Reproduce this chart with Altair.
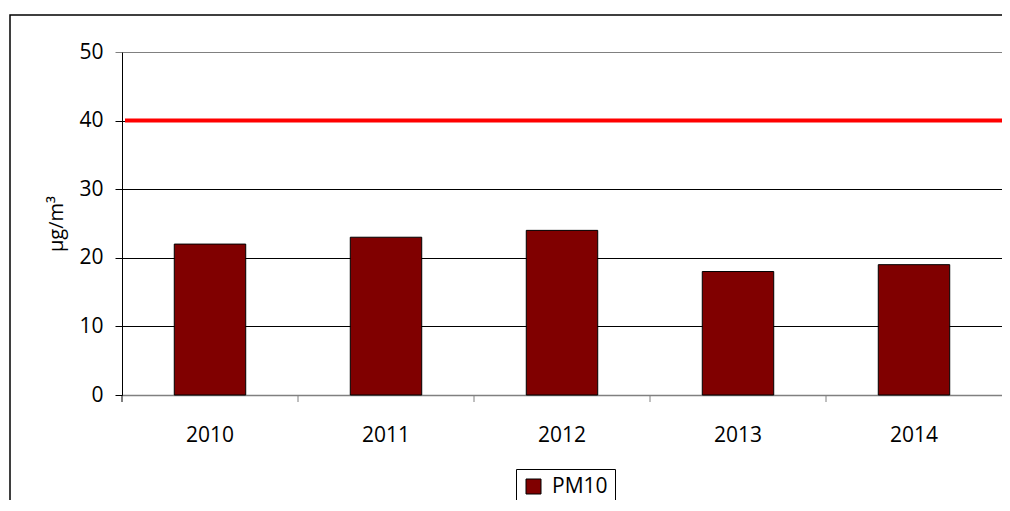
import altair as alt
import pandas as pd

years = ["2010", "2011", "2012", "2013", "2014"]
pm10 = [22, 23, 24, 18, 19]
series_name = "PM10"
limit_value = 40
y_ticks = [0, 10, 20, 30, 40, 50]

df = pd.DataFrame({"year": years, "value": pm10, "series": [series_name] * len(years)})
limit_df = pd.DataFrame({"limit": [limit_value]})
frame_df = pd.DataFrame({"k": [0]})

FONT = "Open Sans"
FS = 21
Y_TITLE = "µg/m³"
W, H = 880, 343

x_scale = alt.Scale(domain=years, paddingInner=0, paddingOuter=0)
y_scale = alt.Scale(domain=[0, 50], nice=False)

bars = alt.Chart(df).mark_bar(
    width=alt.RelativeBandSize(0.406), stroke="black", strokeWidth=1
).encode(
    x=alt.X("year:N", scale=x_scale, sort=years, title=None,
            axis=alt.Axis(labelAngle=0, ticks=False, tickSize=0,
                          labelPadding=29, labelFontSize=FS, labelFont=FONT,
                          labelColor="black", domainColor="#808080", domainWidth=1.5,
                          grid=False)),
    y=alt.Y("value:Q", scale=y_scale, title=Y_TITLE,
            axis=alt.Axis(values=y_ticks, titleFont=FONT, titleFontSize=20,
                          titleFontWeight="normal", titleColor="black",
                          titleX=-60, titleY=H / 2, titleAngle=270, titleAlign="center",
                          titleBaseline="alphabetic",
                          labelFontSize=FS, labelFont=FONT, labelColor="black",
                          labelPadding=12, tickSize=7,
                          tickColor={"condition": {"test": "datum.value == 50", "value": "#808080"}, "value": "black"},
                          domainColor="black", domainWidth=1,
                          grid=True, gridWidth=1,
                          gridColor={"condition": {"test": "datum.value == 0 || datum.value == 50", "value": "#808080"}, "value": "black"})),
    color=alt.Color("series:N", scale=alt.Scale(domain=[series_name], range=["#800000"]),
                    legend=alt.Legend(title=None, orient="none", legendX=394, legendY=417,
                                      strokeColor="black", fillColor="white", padding=7,
                                      symbolType="square", symbolSize=225,
                                      symbolStrokeColor="black", symbolStrokeWidth=1,
                                      labelFont=FONT, labelFontSize=FS, labelColor="black",
                                      labelOffset=8)),
)

xticks = alt.Chart(df).mark_rule(strokeWidth=1).encode(
    x=alt.X("year:N", scale=x_scale, sort=years, bandPosition=0, title=None),
    y=alt.value(H),
    y2=alt.value(H + 7),
    color=alt.condition(alt.datum.year == years[0], alt.value("black"), alt.value("#808080")),
)

limit = alt.Chart(limit_df).mark_rule(color="#ff0000", strokeWidth=4).encode(
    y=alt.Y("limit:Q", scale=y_scale, title=Y_TITLE),
    x=alt.value(3),
    x2=alt.value(W),
)

frame = alt.Chart(frame_df).mark_rect(fill="transparent", stroke="black", strokeWidth=1.5).encode(
    x=alt.value(-112), x2=alt.value(W + 20), y=alt.value(-37), y2=alt.value(470)
)

chart = alt.layer(bars, limit, xticks, frame).properties(
    width=W, height=H,
    autosize=alt.AutoSizeParams(type="none"),
    padding={"left": 114, "top": 44, "right": 0, "bottom": 105},
).configure_view(stroke="#808080", strokeWidth=1.5).configure(background="white")

chart.save("out.html", embed_options={"renderer": "svg", "actions": False})
